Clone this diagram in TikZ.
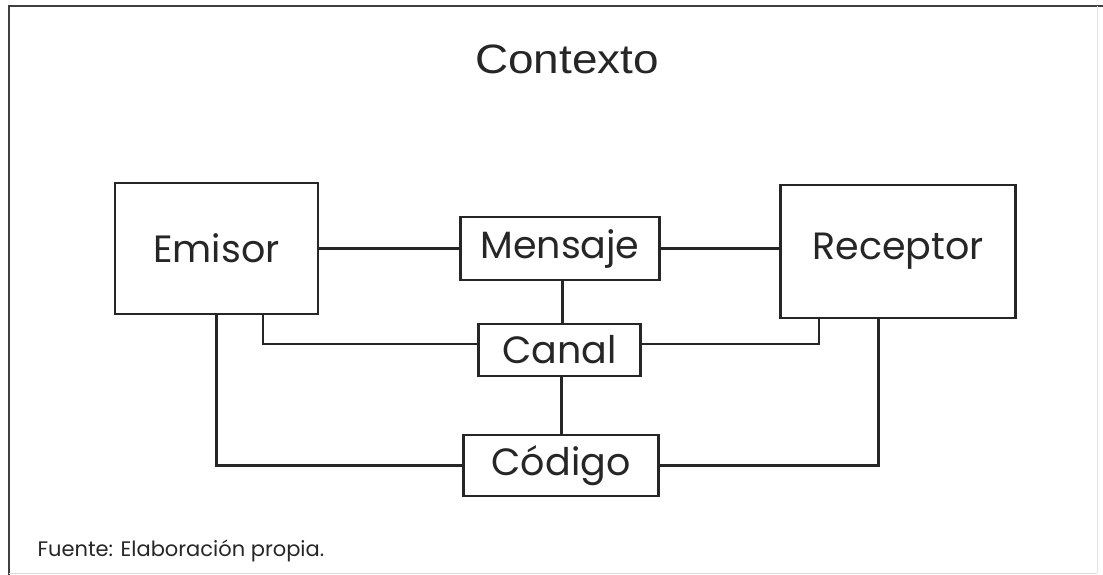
\documentclass[tikz,border=0pt]{standalone}
\usepackage{fontspec}
\setmainfont{Poppins}
\newfontfamily\titlefont{Liberation Sans}
\begin{document}
\begin{tikzpicture}[x=1pt,y=-1pt,
  box/.style={draw=black!85, line width=2.3pt, rectangle, inner sep=0pt, align=center, font=\fontsize{38}{42}\selectfont, text=black!85},
  link/.style={draw=black!85, line width=2.3pt}]
\useasboundingbox (0,0) rectangle (1103,575);
% frame
\draw[line width=2.4pt, black!75] (9,575) -- (9,6) -- (1103,6);
\draw[line width=1pt, black!10] (1097,6) -- (1097,573);
\draw[line width=1pt, black!15] (9,573) -- (1097,573);
% title
\node[font=\titlefont\fontsize{41}{45}\selectfont, text=black!85, xscale=1.12] (ctx) at (567,59) {Contexto};
% boxes
\node[box, minimum width=203pt, minimum height=131pt] (emisor) at (216.5,248.5) {Emisor};
\node[box, minimum width=199pt, minimum height=63pt] (mensaje) at (560,248.5) {Mensaje};
\node[box, minimum width=235pt, minimum height=133pt] (receptor) at (898,251.5) {Receptor};
\node[box, minimum width=162pt, minimum height=52pt] (canal) at (559.5,350) {Canal};
\node[box, minimum width=195pt, minimum height=61pt] (codigo) at (561,465.5) {Código};
% source
\node[anchor=west, font=\fontsize{21}{24}\selectfont, text=black!85] (fuente) at (34,551) {Fuente: Elaboración propia.};
% connectors
\coordinate (eA) at (263.3,314);
\coordinate (mA) at (562.5,280);
\coordinate (cA) at (561.5,376);
\coordinate (rA) at (819.3,318);
\coordinate (rB) at (878.6,318);
\draw[link] (emisor.east) -- (mensaje.west);
\draw[link] (mensaje.east) -- (mensaje.east -| receptor.west);
\draw[link] (mA) -- (mA |- canal.north);
\draw[link] (cA) -- (cA |- codigo.north);
\draw[link] (eA) |- ([yshift=6pt]canal.west);
\draw[link] (emisor.south) |- (codigo.west);
\draw[link] ([yshift=6pt]canal.east) -| (rA);
\draw[link] (codigo.east) -| (rB);
\end{tikzpicture}
\end{document}
